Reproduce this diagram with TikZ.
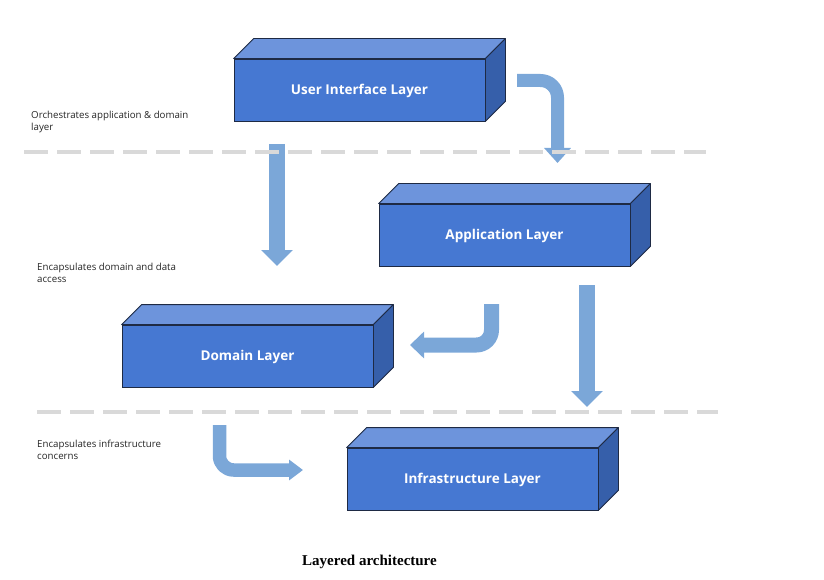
\documentclass[tikz,border=0pt]{standalone}
\usepackage{fontspec}
\setmainfont{Liberation Serif}
\newfontfamily\labelfont{Open Sans}
\usetikzlibrary{arrows.meta,calc}
\definecolor{frontc}{HTML}{4678D2}
\definecolor{topc}{HTML}{6D94DC}
\definecolor{sidec}{HTML}{365FAA}
\definecolor{edgec}{HTML}{1E2A44}
\definecolor{arrc}{HTML}{7BA7D8}
\definecolor{dashc}{HTML}{D9D9D9}
\tikzset{
  front/.style={rectangle, fill=frontc, draw=edgec, line width=0.8pt,
    minimum width=251pt, minimum height=62pt, inner sep=0pt,
    text height=9.8pt, text depth=0pt,
    text=white, font=\labelfont\bfseries\fontsize{13.5}{16}\selectfont},
  topface/.style={fill=topc, draw=edgec, line width=0.8pt, line join=round},
  sideface/.style={fill=sidec, draw=edgec, line width=0.8pt, line join=round},
  flow/.style={draw=arrc, line cap=butt, line join=round},
  sep/.style={draw=dashc, line width=4pt, dash pattern=on 24pt off 9pt},
  note/.style={anchor=base west, inner sep=0pt, align=left,
    font=\labelfont\fontsize{9.7}{11.8}\selectfont, text=black!85},
}
\newcommand{\layerbox}[3]{%
  \node[front] (#1) at (#2) {#3};
  \path[topface] (#1.north west) -- ($(#1.north west)+(20,-20)$) -- ($(#1.north east)+(20,-20)$) -- (#1.north east) -- cycle;
  \path[sideface] (#1.north east) -- ($(#1.north east)+(20,-20)$) -- ($(#1.south east)+(20,-20)$) -- (#1.south east) -- cycle;
}
\begin{document}
\begin{tikzpicture}[x=1pt,y=-1pt]
\useasboundingbox (0,0) rectangle (824,580);

\layerbox{ui}{359.5,90}{User Interface Layer}
\layerbox{app}{504.5,235}{Application Layer}
\layerbox{dom}{247.5,356}{Domain Layer}
\layerbox{infra}{472.5,479}{Infrastructure Layer}

% arrows
\coordinate (a1s) at (517,80.5);
\coordinate (a1m) at (557.5,80.5);
\coordinate (a1e) at (557.5,163);
\draw[flow, line width=13pt, rounded corners=17pt, -{Triangle[width=26pt,length=15pt]}] (a1s) -- (a1m) -- (a1e);

\coordinate (a2s) at (277,144);
\coordinate (a2e) at (277,266);
\draw[flow, line width=16pt, -{Triangle[width=31pt,length=16pt]}] (a2s) -- (a2e);

\coordinate (a3s) at (491.5,304);
\coordinate (a3m) at (491.5,345);
\coordinate (a3e) at (410,345);
\draw[flow, line width=15pt, rounded corners=15pt, -{Triangle[width=26pt,length=14pt]}] (a3s) -- (a3m) -- (a3e);

\coordinate (a4s) at (587,285);
\coordinate (a4e) at (587,407);
\draw[flow, line width=16pt, -{Triangle[width=31pt,length=16pt]}] (a4s) -- (a4e);

\coordinate (a5s) at (219.5,425);
\coordinate (a5m) at (219.5,470);
\coordinate (a5e) at (303,470);
\draw[flow, line width=13.5pt, rounded corners=14pt, -{Triangle[width=20pt,length=14pt]}] (a5s) -- (a5m) -- (a5e);

% separators
\coordinate (s1a) at (24,152);
\coordinate (s1b) at (706,152);
\coordinate (s2a) at (37,412);
\coordinate (s2b) at (718,412);
\draw[sep] (s1a) -- (s1b);
\draw[sep] (s2a) -- (s2b);

% notes (anchored at the baseline of the last line)
\node[note] (n1) at (31,130.8) {Orchestrates application \& domain\\layer};
\node[note] (n2) at (37,282.3) {Encapsulates domain and data\\access};
\node[note] (n3) at (37,459.1) {Encapsulates infrastructure\\concerns};

\node[anchor=base, inner sep=0pt, font=\bfseries\fontsize{15}{17}\selectfont] (cap) at (369.5,565) {Layered architecture};
\end{tikzpicture}
\end{document}
